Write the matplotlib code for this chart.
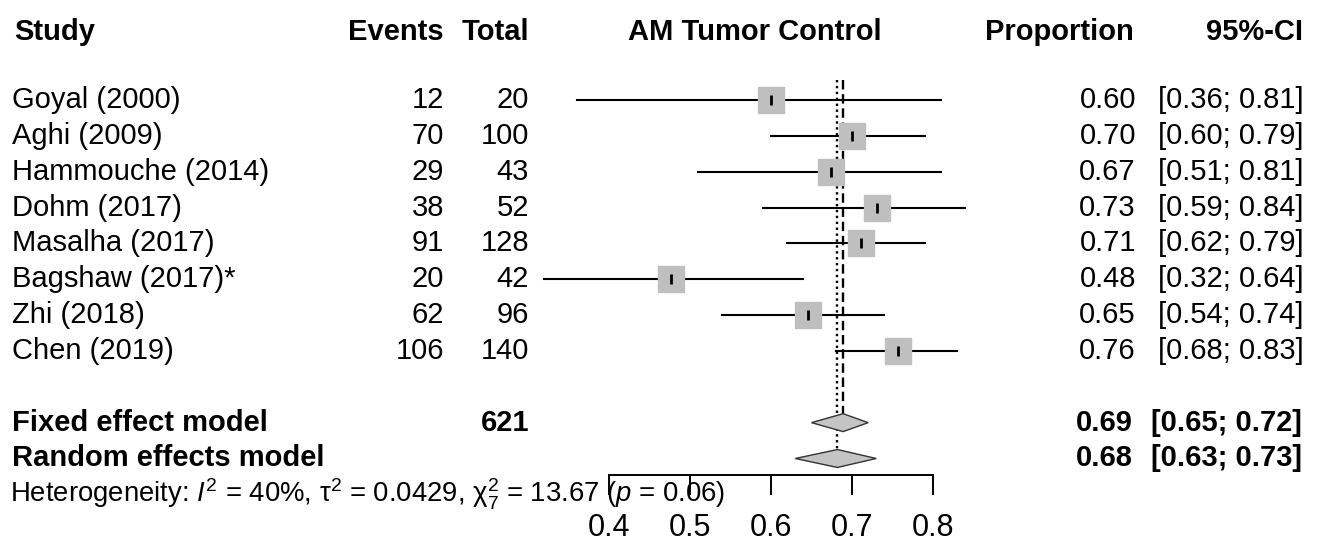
import matplotlib
matplotlib.use("Agg")
import matplotlib.pyplot as plt
import matplotlib.transforms as mtransforms
from matplotlib.patches import Polygon

plt.rcParams['font.family'] = ['Liberation Sans', 'DejaVu Sans']
plt.rcParams['mathtext.fontset'] = 'custom'
plt.rcParams['mathtext.rm'] = 'Liberation Sans'
plt.rcParams['mathtext.it'] = 'Liberation Sans:italic'
plt.rcParams['mathtext.bf'] = 'Liberation Sans:bold'

# data
studies = ["Goyal (2000)", "Aghi (2009)", "Hammouche (2014)", "Dohm (2017)",
           "Masalha (2017)", "Bagshaw (2017)*", "Zhi (2018)", "Chen (2019)"]
events = [12, 70, 29, 38, 91, 20, 62, 106]
totals = [20, 100, 43, 52, 128, 42, 96, 140]
proportions = [0.600, 0.700, 0.674, 0.731, 0.711, 0.476, 0.646, 0.757]
ci_low = [0.36, 0.60, 0.51, 0.59, 0.62, 0.32, 0.54, 0.68]
ci_high = [0.81, 0.79, 0.81, 0.84, 0.79, 0.64, 0.74, 0.83]

models = ["Fixed effect model", "Random effects model"]
model_est = [0.689, 0.682]
model_low = [0.65, 0.63]
model_high = [0.72, 0.73]
total_n = 621

ticks = [0.4, 0.5, 0.6, 0.7, 0.8]
heterogeneity = (r"Heterogeneity: $I^2$ = 40%, τ$^2$ = 0.0429, χ$^2_7$ = 13.67 ($p$ = 0.06)")

# layout (pixels of the 1317x545 picture)
W, H = 1317, 545
X04_PX, PX_PER_UNIT = 609, 810
ROW0_PX, ROW_PX = 100, 35.85
FS = 21
BOX_PX = 27
GREY = "#bfbfbf"

fig = plt.figure(figsize=(W / 100, H / 100), dpi=100)
ax = fig.add_axes([0, 0, 1, 1])
ax.set_xlim(0.4 - X04_PX / PX_PER_UNIT, 0.4 + (W - X04_PX) / PX_PER_UNIT)
ax.set_ylim((H - ROW0_PX) / ROW_PX, -ROW0_PX / ROW_PX)

rows = list(range(len(studies)))
model_rows = [len(studies) + 1, len(studies) + 2]

# reference lines: fixed (dashed) and random (dotted)
ax.plot([model_est[0]] * 2, [-0.56, model_rows[0] - 0.25], color="black",
        lw=1.7, ls=(0, (4, 2)), zorder=1)
ax.plot([model_est[1]] * 2, [-0.56, model_rows[1] - 0.25], color="black",
        lw=1.7, ls=(0, (1, 1.5)), zorder=1)

# study CIs, squares and point ticks
for r, p, lo, hi in zip(rows, proportions, ci_low, ci_high):
    ax.plot([lo, hi], [r, r], color="black", lw=1.5, zorder=2)
ax.plot(proportions, rows, ls="none", marker="s", ms=BOX_PX * 0.72,
        mfc=GREY, mec=GREY, zorder=3)
ax.plot(proportions, rows, ls="none", marker="|", ms=10 * 0.72, mew=2,
        color="black", zorder=4)

# diamonds
for r, e, lo, hi in zip(model_rows, model_est, model_low, model_high):
    ax.add_patch(Polygon([(lo, r), (e, r - 0.25), (hi, r), (e, r + 0.25)],
                         closed=True, facecolor="#c4c4c4", edgecolor="#333333",
                         lw=1.0, zorder=3))

# x axis
for s in ["top", "left", "right"]:
    ax.spines[s].set_visible(False)
ax.spines["bottom"].set_position(("data", 10.45))
ax.spines["bottom"].set_bounds(ticks[0], ticks[-1])
ax.spines["bottom"].set_linewidth(1.4)
ax.set_xticks(ticks)
ax.set_xticklabels([f"{t:.1f}" for t in ticks])
ax.set_yticks([])
ax.tick_params(axis="x", direction="out", length=20 * 0.72, width=1.4,
               labelsize=22, pad=13)

# text columns
tr = mtransforms.blended_transform_factory(fig.transFigure, ax.transData)


def fx(px):
    return px / W


hy = -1.9
ax.text(fx(14), hy, "Study", transform=tr, ha="left", va="center", fontsize=FS, weight="bold")
ax.text(fx(444), hy, "Events", transform=tr, ha="right", va="center", fontsize=FS, weight="bold")
ax.text(fx(529), hy, "Total", transform=tr, ha="right", va="center", fontsize=FS, weight="bold")
ax.text(fx(755), hy, "AM Tumor Control", transform=tr, ha="center", va="center", fontsize=FS, weight="bold")
ax.text(fx(1134), hy, "Proportion", transform=tr, ha="right", va="center", fontsize=FS, weight="bold")
ax.text(fx(1303), hy, "95%-CI", transform=tr, ha="right", va="center", fontsize=FS, weight="bold")

for r, name, ev, n, p, lo, hi in zip(rows, studies, events, totals, proportions, ci_low, ci_high):
    ax.text(fx(12), r, name, transform=tr, ha="left", va="center", fontsize=FS)
    ax.text(fx(444), r, str(ev), transform=tr, ha="right", va="center", fontsize=FS)
    ax.text(fx(529), r, str(n), transform=tr, ha="right", va="center", fontsize=FS)
    ax.text(fx(1136), r, f"{p:.2f}", transform=tr, ha="right", va="center", fontsize=FS)
    ax.text(fx(1304), r, f"[{lo:.2f}; {hi:.2f}]", transform=tr, ha="right", va="center", fontsize=FS)

for i, (r, name, e, lo, hi) in enumerate(zip(model_rows, models, model_est, model_low, model_high)):
    ax.text(fx(12), r, name, transform=tr, ha="left", va="center", fontsize=FS, weight="bold")
    if i == 0:
        ax.text(fx(529), r, str(total_n), transform=tr, ha="right", va="center", fontsize=FS, weight="bold")
    ax.text(fx(1133), r, f"{e:.2f}", transform=tr, ha="right", va="center", fontsize=FS, weight="bold")
    ax.text(fx(1302), r, f"[{lo:.2f}; {hi:.2f}]", transform=tr, ha="right", va="center", fontsize=FS, weight="bold")

ax.text(fx(10), model_rows[1] + 1, heterogeneity, transform=tr, ha="left",
        va="center", fontsize=19.8)

fig.savefig("out.png", dpi=100)
